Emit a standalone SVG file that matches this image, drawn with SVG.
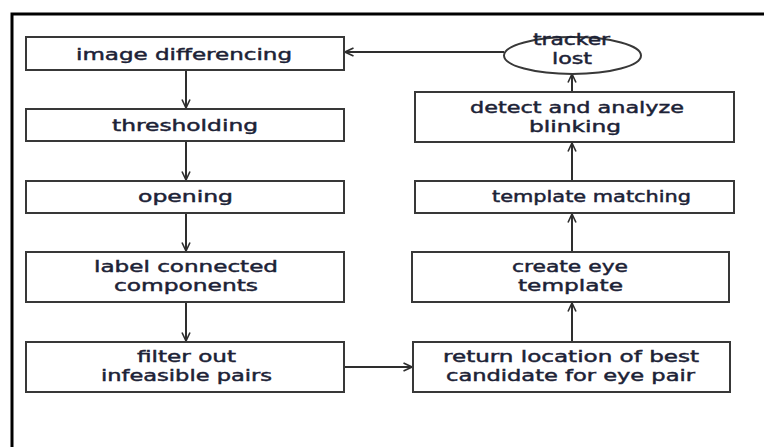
<svg xmlns="http://www.w3.org/2000/svg" width="764" height="447" viewBox="0 0 764 447">
<style>
.box{fill:#fff;stroke:#383838;stroke-width:2}
.t{font-family:"DejaVu Sans",Verdana,sans-serif;font-size:16px;fill:#1c2236;stroke:#1c2236;stroke-width:0.45}
.c{fill:none;stroke:#2e2e2e;stroke-width:2}
.frame{fill:none;stroke:#000;stroke-width:3}
</style>
<defs>
<marker id="ah" viewBox="0 0 10 10" refX="9.5" refY="5" markerWidth="10" markerHeight="10" markerUnits="userSpaceOnUse" orient="auto">
<path d="M1,1 L9.5,5 L1,9" fill="none" stroke="#2e2e2e" stroke-width="1.6"/>
</marker>
</defs>
<rect width="764" height="447" fill="#fff"/>
<path class="frame" d="M12,447 V14 H764"/>
<g id="connectors">
<line class="c" x1="186" y1="70" x2="186" y2="108" marker-end="url(#ah)"/>
<line class="c" x1="186" y1="141" x2="186" y2="180" marker-end="url(#ah)"/>
<line class="c" x1="186" y1="213" x2="186" y2="251" marker-end="url(#ah)"/>
<line class="c" x1="186" y1="302" x2="186" y2="341" marker-end="url(#ah)"/>
<line class="c" x1="344" y1="367" x2="412" y2="367" marker-end="url(#ah)"/>
<line class="c" x1="572" y1="342" x2="572" y2="303" marker-end="url(#ah)"/>
<line class="c" x1="572" y1="252" x2="572" y2="214" marker-end="url(#ah)"/>
<line class="c" x1="572" y1="181" x2="572" y2="143" marker-end="url(#ah)"/>
<line class="c" x1="572" y1="92" x2="572" y2="74" marker-end="url(#ah)"/>
<line class="c" x1="504" y1="52" x2="345" y2="52" marker-end="url(#ah)"/>
</g>
<g id="n-image-differencing">
<rect class="box" x="26" y="37" width="318" height="33"/>
<text class="t" x="76" y="59.5" textLength="216" lengthAdjust="spacingAndGlyphs">image differencing</text>
</g>
<g id="n-thresholding">
<rect class="box" x="26" y="109" width="318" height="32"/>
<text class="t" x="112" y="130.5" textLength="146" lengthAdjust="spacingAndGlyphs">thresholding</text>
</g>
<g id="n-opening">
<rect class="box" x="26" y="181" width="318" height="32"/>
<text class="t" x="138" y="202" textLength="95" lengthAdjust="spacingAndGlyphs">opening</text>
</g>
<g id="n-label">
<rect class="box" x="26" y="252" width="318" height="50"/>
<text class="t" x="94" y="272" textLength="184" lengthAdjust="spacingAndGlyphs">label connected</text>
<text class="t" x="114" y="291" textLength="144" lengthAdjust="spacingAndGlyphs">components</text>
</g>
<g id="n-filter">
<rect class="box" x="26" y="342" width="318" height="50"/>
<text class="t" x="137" y="361.5" textLength="99" lengthAdjust="spacingAndGlyphs">filter out</text>
<text class="t" x="101" y="380.5" textLength="171" lengthAdjust="spacingAndGlyphs">infeasible pairs</text>
</g>
<g id="n-return">
<rect class="box" x="413" y="342" width="317" height="50"/>
<text class="t" x="443" y="361.5" textLength="256" lengthAdjust="spacingAndGlyphs">return location of best</text>
<text class="t" x="446" y="380.5" textLength="249" lengthAdjust="spacingAndGlyphs">candidate for eye pair</text>
</g>
<g id="n-create">
<rect class="box" x="412" y="252" width="317" height="50"/>
<text class="t" x="512" y="272" textLength="116" lengthAdjust="spacingAndGlyphs">create eye</text>
<text class="t" x="518" y="291" textLength="105" lengthAdjust="spacingAndGlyphs">template</text>
</g>
<g id="n-template-matching">
<rect class="box" x="415" y="181" width="319" height="32"/>
<text class="t" x="492" y="202" textLength="199" lengthAdjust="spacingAndGlyphs">template matching</text>
</g>
<g id="n-detect">
<rect class="box" x="415" y="92" width="319" height="50"/>
<text class="t" x="470" y="113" textLength="214" lengthAdjust="spacingAndGlyphs">detect and analyze</text>
<text class="t" x="529" y="132" textLength="92" lengthAdjust="spacingAndGlyphs">blinking</text>
</g>
<g id="n-tracker-lost">
<ellipse class="box" cx="572.5" cy="55.5" rx="68.5" ry="18.5"/>
<text class="t" x="533" y="45" textLength="77" lengthAdjust="spacingAndGlyphs">tracker</text>
<text class="t" x="552" y="64" textLength="40" lengthAdjust="spacingAndGlyphs">lost</text>
</g>
</svg>
